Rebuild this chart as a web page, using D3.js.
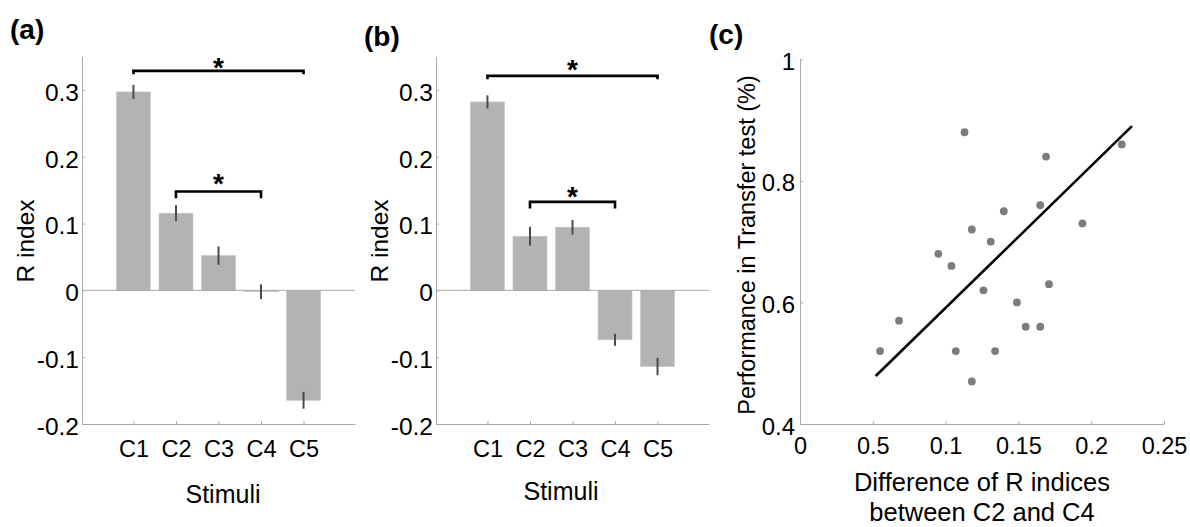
<!DOCTYPE html>
<html>
<head>
<meta charset="utf-8">
<script src="https://cdn.jsdelivr.net/npm/d3@7"></script>
<style>
body { margin: 0; background: #fff; }
svg { display: block; }
</style>
</head>
<body>
<div id="fig"></div>
<script>
// ---- data ----
var stimuli = ["C1", "C2", "C3", "C4", "C5"];

var rIndexA = [0.297, 0.1155, 0.052, -0.002, -0.1645];
var errA    = [0.0105, 0.012, 0.0137, 0.011, 0.0125];
var rIndexB = [0.282, 0.081, 0.0945, -0.074, -0.114];
var errB    = [0.0098, 0.014, 0.011, 0.009, 0.013];

// significance brackets: y = bracket level, drop = end hooks, star = asterisk centre
var bracketsA = [{from: "C1", to: "C5", y: 0.3285, drop: 0.005, star: 0.3428},
                 {from: "C2", to: "C4", y: 0.148,  drop: 0.01,  star: 0.170}];
var bracketsB = [{from: "C1", to: "C5", y: 0.321,  drop: 0.005, star: 0.340},
                 {from: "C2", to: "C4", y: 0.1325, drop: 0.01,  star: 0.150}];

var rTicks = [-0.2, -0.1, 0, 0.1, 0.2, 0.3];

var diffR = [0.113, 0.169, 0.221, 0.165, 0.140, 0.194, 0.118, 0.131, 0.095, 0.104,
             0.171, 0.126, 0.149, 0.068, 0.155, 0.165, 0.055, 0.107, 0.134, 0.118];
var perf  = [0.88, 0.84, 0.86, 0.76, 0.75, 0.73, 0.72, 0.70, 0.68, 0.66,
             0.63, 0.62, 0.60, 0.57, 0.56, 0.56, 0.52, 0.52, 0.52, 0.47];
var fitX = [0.052, 0.228];
var fitY = [0.479, 0.890];

var perfTicks = [0.4, 0.6, 0.8, 1];
var diffTicks = [0, 0.05, 0.1, 0.15, 0.2, 0.25];
var diffTickLabels = ["0", "0.5", "0.1", "0.15", "0.2", "0.25"];

// ---- look ----
var font = '"Liberation Sans", Arial, Helvetica, sans-serif';
var axisColor = "#a9a9a9";
var barColor = "#b3b3b3";
var errColor = "#4a4a4a";
var dotColor = "#7c7c7c";

var svg = d3.select("#fig").append("svg")
    .attr("width", 1190)
    .attr("height", 527)
    .style("font-family", font);

svg.append("rect").attr("width", 1190).attr("height", 527).attr("fill", "#fff");

function styleAxis(g, size) {
    g.attr("font-family", null).attr("font-size", null).attr("color", axisColor);
    g.selectAll("text").attr("fill", "#000").style("font-size", size + "px");
}

function barPanel(left, values, errs, brackets, tag, tagY, stimX, stimY) {
    var top = 56.5, bottom = 424, w = 273;
    var x = d3.scalePoint().domain(stimuli).range([left, left + w]).padding(1.21);
    var y = d3.scaleLinear().domain([-0.2, 0.35]).range([bottom, top]);
    var bw = x.step() * 0.8;
    var g = svg.append("g");

    g.selectAll(".bar")
        .data(values)
        .enter().append("rect")
        .attr("class", "bar")
        .attr("x", (d, i) => x(stimuli[i]) - bw / 2)
        .attr("y", d => y(Math.max(0, d)))
        .attr("width", bw)
        .attr("height", d => Math.abs(y(d) - y(0)))
        .attr("fill", barColor)
        .attr("stroke", "#c6c6c6")
        .attr("stroke-width", 0.6);

    // baseline across the plot
    g.append("line")
        .attr("x1", left).attr("x2", left + w)
        .attr("y1", y(0)).attr("y2", y(0))
        .attr("stroke", axisColor);

    g.selectAll(".err")
        .data(values)
        .enter().append("line")
        .attr("class", "err")
        .attr("x1", (d, i) => x(stimuli[i]))
        .attr("x2", (d, i) => x(stimuli[i]))
        .attr("y1", (d, i) => y(d - errs[i]))
        .attr("y2", (d, i) => y(d + errs[i]))
        .attr("stroke", errColor)
        .attr("stroke-width", 2);

    var xa = g.append("g")
        .attr("transform", "translate(0," + bottom + ")")
        .call(d3.axisBottom(x).tickSizeInner(-3).tickSizeOuter(0).tickPadding(16));
    styleAxis(xa, 23.5);

    var ya = g.append("g")
        .attr("transform", "translate(" + left + ",0)")
        .call(d3.axisLeft(y).tickValues(rTicks).tickSizeInner(-3).tickSizeOuter(0)
            .tickPadding(3).tickFormat(d => String(d)));
    styleAxis(ya, 24.5);
    ya.selectAll("text").attr("dy", "0.42em");

    g.selectAll(".bracket")
        .data(brackets)
        .enter().append("path")
        .attr("class", "bracket")
        .attr("d", b => "M" + x(b.from) + "," + y(b.y - b.drop) + "V" + y(b.y) +
            "H" + x(b.to) + "V" + y(b.y - b.drop))
        .attr("fill", "none")
        .attr("stroke", "#000")
        .attr("stroke-width", 2.6);

    g.selectAll(".star")
        .data(brackets)
        .enter().append("text")
        .attr("class", "star")
        .attr("x", b => (x(b.from) + x(b.to)) / 2)
        .attr("y", b => y(b.star) + 16)
        .attr("text-anchor", "middle")
        .style("font-size", "28px")
        .style("font-weight", "bold")
        .text("*");

    g.append("text")
        .attr("transform", "translate(" + (left - 48) + ",241) rotate(-90)")
        .attr("text-anchor", "middle")
        .style("font-size", "24.5px")
        .text("R index");

    g.append("text")
        .attr("x", stimX).attr("y", stimY)
        .attr("text-anchor", "middle")
        .style("font-size", "25px")
        .text("Stimuli");

    g.append("text")
        .attr("x", left - 72).attr("y", tagY)
        .style("font-size", "28px")
        .style("font-weight", "bold")
        .text(tag);
}

barPanel(82, rIndexA, errA, bracketsA, "(a)", 39, 223, 503);
barPanel(436, rIndexB, errB, bracketsB, "(b)", 46, 561, 500);

// ---- panel (c) scatter ----
var cx = d3.scaleLinear().domain([0, 0.25]).range([800, 1164]);
var cy = d3.scaleLinear().domain([0.4, 1]).range([424, 59.3]);
var gc = svg.append("g");

var cxa = gc.append("g")
    .attr("transform", "translate(0," + cy(0.4) + ")")
    .call(d3.axisBottom(cx).tickValues(diffTicks).tickSizeInner(-3).tickSizeOuter(0)
        .tickPadding(13.5).tickFormat((d, i) => diffTickLabels[i]));
styleAxis(cxa, 23.5);

var cya = gc.append("g")
    .attr("transform", "translate(" + cx(0) + ",0)")
    .call(d3.axisLeft(cy).tickValues(perfTicks).tickSizeInner(-3).tickSizeOuter(0)
        .tickPadding(5).tickFormat(d => String(d)));
styleAxis(cya, 24);
cya.selectAll("text").attr("dy", "0.42em");

gc.selectAll(".dot")
    .data(diffR)
    .enter().append("circle")
    .attr("class", "dot")
    .attr("cx", d => cx(d))
    .attr("cy", (d, i) => cy(perf[i]))
    .attr("r", 3.9)
    .attr("fill", dotColor);

gc.append("line")
    .attr("x1", cx(fitX[0])).attr("y1", cy(fitY[0]))
    .attr("x2", cx(fitX[1])).attr("y2", cy(fitY[1]))
    .attr("stroke", "#000")
    .attr("stroke-width", 2.6);

gc.append("text")
    .attr("transform", "translate(755,245) rotate(-90)")
    .attr("text-anchor", "middle")
    .style("font-size", "23.5px")
    .text("Performance in Transfer test (%)");

gc.append("text")
    .attr("x", 982).attr("y", 491)
    .attr("text-anchor", "middle")
    .style("font-size", "25.5px")
    .text("Difference of R indices");

gc.append("text")
    .attr("x", 982).attr("y", 521)
    .attr("text-anchor", "middle")
    .style("font-size", "25.5px")
    .text("between C2 and C4");

gc.append("text")
    .attr("x", 709).attr("y", 44)
    .style("font-size", "28px")
    .style("font-weight", "bold")
    .text("(c)");
</script>
</body>
</html>
